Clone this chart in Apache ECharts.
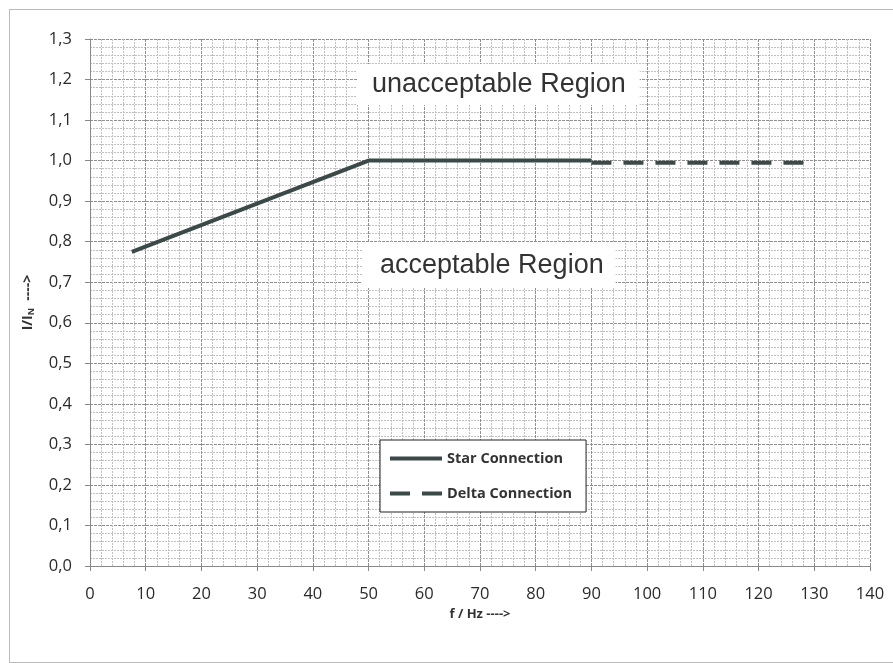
<!DOCTYPE html>
<html>
<head>
<meta charset="utf-8">
<script src="https://cdn.jsdelivr.net/npm/echarts@6/dist/echarts.min.js"></script>
<style>html,body{margin:0;padding:0;background:#fff;}#c{width:893px;height:663px;}</style>
</head>
<body>
<div id="c"></div>
<script>
const starX = [7.5, 50, 90];
const starY = [0.775, 1.0, 1.0];
const deltaX = [90, 129];
const deltaY = [0.995, 0.995];
const seriesNames = ['Star Connection', 'Delta Connection'];
const xTitle = 'f / Hz ---->';
const regionTexts = ['unacceptable Region', 'acceptable Region'];

const chart = echarts.init(document.getElementById('c'));
const lineColor = '#3b4949';
const fmt = v => v.toFixed(1).replace('.', ',');
chart.setOption({
  backgroundColor: '#fff',
  animation: false,
  grid: {left: 90, right: 23, top: 39, bottom: 97, containLabel: false},
  xAxis: {
    type: 'value', min: 0, max: 140, interval: 10,
    name: xTitle, nameLocation: 'middle', nameGap: 40,
    nameTextStyle: {fontFamily: 'Open Sans', fontWeight: 'bold', fontSize: 13, color: '#333'},
    axisLine: {show: true, lineStyle: {color: '#888', width: 1}},
    axisTick: {show: true, length: 5, lineStyle: {color: '#888'}},
    axisLabel: {fontFamily: 'Open Sans', fontSize: 16.5, color: '#2a2a2a', margin: 20},
    splitLine: {show: true, lineStyle: {color: '#8f8f8f', type: [3, 1], width: 1}},
    minorTick: {show: true, splitNumber: 5, length: 0},
    minorSplitLine: {show: true, lineStyle: {color: '#c0c0c0', type: [2, 1], width: 1}}
  },
  yAxis: {
    type: 'value', min: 0, max: 1.3, interval: 0.1,
    name: '{a|I/I}{s|N}{a|  ---->}', nameLocation: 'middle', nameGap: 54,
    nameTextStyle: {rich: {
      a: {fontFamily: 'Open Sans', fontWeight: 'bold', fontSize: 14, color: '#333'},
      s: {fontFamily: 'Open Sans', fontWeight: 'bold', fontSize: 9, color: '#333', verticalAlign: 'bottom', padding: [6, 0, 0, 0]}
    }},
    axisLine: {show: true, lineStyle: {color: '#888', width: 1}},
    axisTick: {show: true, length: 5, lineStyle: {color: '#888'}},
    axisLabel: {fontFamily: 'Open Sans', fontSize: 16.5, color: '#2a2a2a', margin: 18, formatter: fmt},
    splitLine: {show: true, lineStyle: {color: '#8f8f8f', type: [3, 1], width: 1}},
    minorTick: {show: true, splitNumber: 5, length: 0},
    minorSplitLine: {show: true, lineStyle: {color: '#c0c0c0', type: [2, 1], width: 1}}
  },
  legend: {
    orient: 'vertical', left: 380, top: 440,
    backgroundColor: '#fff', borderColor: '#222', borderWidth: 1,
    padding: [11, 14, 11, 8], itemGap: 20, itemWidth: 52, itemHeight: 12,
    itemStyle: {opacity: 0},
    lineStyle: {width: 4},
    textStyle: {fontFamily: 'Open Sans', fontWeight: 'bold', fontSize: 14.5, color: '#333'},
    data: seriesNames
  },
  series: [
    {name: seriesNames[0], type: 'line', symbol: 'none', z: 5,
     data: starX.map((x, i) => [x, starY[i]]),
     lineStyle: {color: lineColor, width: 4}, itemStyle: {color: lineColor}},
    {name: seriesNames[1], type: 'line', symbol: 'none', z: 5,
     data: deltaX.map((x, i) => [x, deltaY[i]]),
     lineStyle: {color: lineColor, width: 4, type: [20, 12]}, itemStyle: {color: lineColor}}
  ],
  graphic: [
    {type: 'rect', left: 7, top: 7, shape: {width: 1000, height: 653},
     style: {fill: 'none', stroke: '#777', lineWidth: 1, lineDash: [1, 1]}, silent: true},
    {type: 'text', left: 357, top: 64, z: 10,
     style: {text: regionTexts[0], font: '27px "Liberation Sans"', fill: '#333',
             backgroundColor: '#fff', padding: [7, 14, 7, 15]}},
    {type: 'text', left: 362, top: 243, z: 10,
     style: {text: regionTexts[1], font: '27px "Liberation Sans"', fill: '#333',
             backgroundColor: '#fff', padding: [9, 12, 9, 18]}}
  ]
});
</script>
</body>
</html>
